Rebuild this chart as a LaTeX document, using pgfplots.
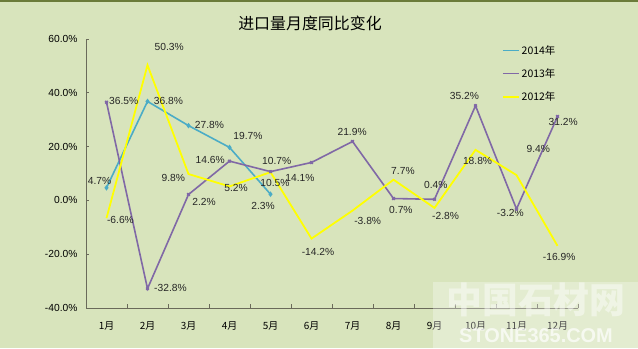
\documentclass[border=0pt]{standalone}
\usepackage{pgfplots}
\pgfplotsset{compat=1.18}
\usepackage{fontspec}
\setmainfont{Liberation Sans}
\newfontfamily\cjk{Noto Sans CJK SC}
\definecolor{bg}{HTML}{D8E4BC}
\definecolor{topline}{HTML}{6B7B3A}
\definecolor{axiscol}{HTML}{6A6A5A}
\definecolor{c2014}{HTML}{4BACC6}
\definecolor{c2013}{HTML}{8068A6}
\definecolor{c2012}{HTML}{FFFF00}
\newcommand{\lab}{\fontsize{10.3}{12}\selectfont}
\begin{document}
\begin{tikzpicture}[x=1bp,y=1bp]
\useasboundingbox (0,0) rectangle (638,348);
\fill[bg] (0,0) rectangle (638,348);
\fill[topline] (0,346) rectangle (638,348);
\node[font=\cjk\fontsize{16}{18}\selectfont] at (310,325) {进口量月度同比变化};
\begin{axis}[
  at={(86bp,40bp)}, anchor=south west, scale only axis,
  width=492bp, height=269bp,
  xmin=0.5, xmax=12.5, ymin=-40, ymax=60,
  clip=false,
  axis x line*=bottom, axis y line*=left,
  axis line style={axiscol, line width=0.9pt},
  xtick={1,...,12},
  xticklabels={1月,2月,3月,4月,5月,6月,7月,8月,9月,10月,11月,12月},
  x tick label style={font=\cjk\fontsize{10}{12}\selectfont, yshift=-10bp},
  major x tick style={draw=none},
  minor xtick={0.5,1.5,...,12.5},
  minor tick length=4bp,
  minor tick style={axiscol, line width=0.8pt},
  tick align=inside,
  ytick={-40,-20,0,20,40,60},
  yticklabels={-40.0\%,-20.0\%,0.0\%,20.0\%,40.0\%,60.0\%},
  y tick label style={font=\lab, xshift=-5bp},
  major tick length=3bp,
  tick style={axiscol, line width=0.8pt},
  legend style={at={(rel axis cs:0.845,0.985)}, anchor=north west, draw=none, fill=none,
    font=\cjk\fontsize{10.5}{12}\selectfont, row sep=9bp, inner sep=0pt},
  legend cell align=left,
  legend image code/.code={\draw[#1] (0bp,0bp) -- (16bp,0bp);},
]
\addplot[c2014, line width=1.6pt, mark=diamond*, mark size=1.5bp] coordinates {
  (1,4.7) (2,36.8) (3,27.8) (4,19.7) (5,2.3)};
\addlegendentry{2014年}
\addplot[c2013, line width=1.6pt, mark=x, mark size=1.8bp] coordinates {
  (1,36.5) (2,-32.8) (3,2.2) (4,14.6) (5,10.7) (6,14.1) (7,21.9) (8,0.7) (9,0.4) (10,35.2) (11,-3.2) (12,31.2)};
\addlegendentry{2013年}
\addplot[c2012, line width=1.8pt] coordinates {
  (1,-6.6) (2,50.3) (3,9.8) (4,5.2) (5,10.5) (6,-14.2) (7,-3.8) (8,7.7) (9,-2.8) (10,18.8) (11,9.4) (12,-16.9)};
\addlegendentry{2012年}
% data labels
\begin{scope}[every node/.style={font=\lab, text=black!85}]
\node at (axis cs:2.53,56.9) {50.3\%};
\node at (axis cs:1.42,36.8) {36.5\%};
\node at (axis cs:2.51,36.8) {36.8\%};
\node at (axis cs:3.51,27.9) {27.8\%};
\node at (axis cs:4.45,23.8) {19.7\%};
\node at (axis cs:3.53,14.9) {14.6\%};
\node at (axis cs:5.15,14.5) {10.7\%};
\node at (axis cs:5.72,8.2) {14.1\%};
\node at (axis cs:0.83,7.1) {4.7\%};
\node at (axis cs:1.34,-7.1) {-6.6\%};
\node at (axis cs:2.63,8.2) {9.8\%};
\node at (axis cs:3.38,-0.4) {2.2\%};
\node at (axis cs:4.16,4.8) {5.2\%};
\node at (axis cs:5.11,6.3) {10.5\%};
\node at (axis cs:4.82,-2.2) {2.3\%};
\node at (axis cs:2.56,-32.7) {-32.8\%};
\node at (axis cs:6.16,-19) {-14.2\%};
\node at (axis cs:6.99,25.3) {21.9\%};
\node at (axis cs:9.73,38.7) {35.2\%};
\node at (axis cs:12.14,29.0) {31.2\%};
\node at (axis cs:11.53,19.0) {9.4\%};
\node at (axis cs:10.05,14.5) {18.8\%};
\node at (axis cs:8.23,11.1) {7.7\%};
\node at (axis cs:9.03,5.6) {0.4\%};
\node at (axis cs:8.18,-3.7) {0.7\%};
\node at (axis cs:7.37,-7.8) {-3.8\%};
\node at (axis cs:9.27,-5.9) {-2.8\%};
\node at (axis cs:10.85,-4.8) {-3.2\%};
\node at (axis cs:12.04,-21.2) {-16.9\%};
\end{scope}
\end{axis}
% watermark
\fill[white, opacity=0.3] (433,0) rectangle (638,66);
\node[font=\cjk\bfseries\fontsize{36}{38}\selectfont, text=white, opacity=0.45] at (536,48) {中国石材网};
\node[font=\bfseries\fontsize{20}{22}\selectfont, text=white, opacity=0.7] at (536,12) {STONE365.COM};
\end{tikzpicture}
\end{document}
